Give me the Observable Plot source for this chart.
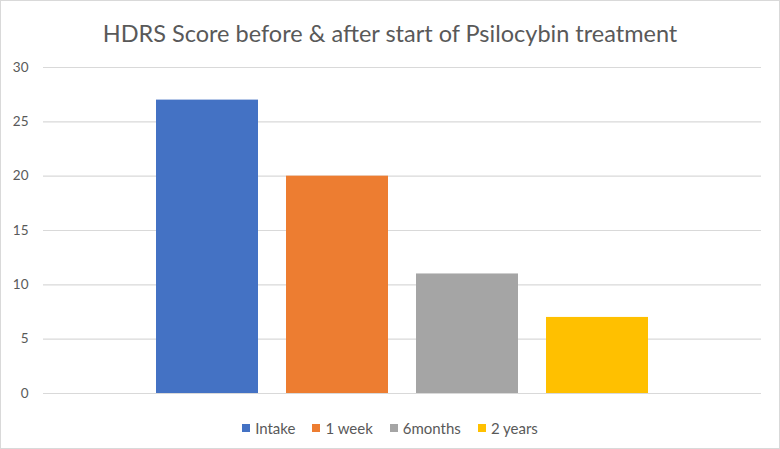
<!DOCTYPE html>
<html>
<head>
<meta charset="utf-8">
<script src="https://cdn.jsdelivr.net/npm/d3@7"></script>
<script src="https://cdn.jsdelivr.net/npm/@observablehq/plot@0.6"></script>
<style>
  html, body { margin: 0; padding: 0; background: #fff; }
  #wrap {
    width: 780px; height: 449px; box-sizing: border-box;
    border: 1px solid #d9d9d9; overflow: hidden; position: relative;
    font-family: Lato, "Open Sans", sans-serif; color: #595959;
  }
  #title {
    height: 55px; box-sizing: border-box; padding-top: 19px;
    text-align: center; font-size: 23.5px; line-height: 26px; color: #595959;
  }
  #legend {
    height: 44px; display: flex; justify-content: center; align-items: center;
    gap: 17px; font-size: 15px; color: #595959;
  }
  .item { display: flex; align-items: center; gap: 5px; }
  .sw { width: 8px; height: 8px; display: inline-block; }
  svg { display: block; }
</style>
</head>
<body>
<div id="wrap">
  <div id="title"></div>
  <div id="chart"></div>
  <div id="legend"></div>
</div>
<script>
const titleText = "HDRS Score before & after start of Psilocybin treatment";
const series = ["Intake", "1 week", "6months", "2 years"];
const values = [27, 20, 11, 7];
const colors = ["#4472C4", "#ED7D31", "#A5A5A5", "#FFC000"];
const yTicks = [0, 5, 10, 15, 20, 25, 30];

const data = series.map((s, i) => ({series: s, value: values[i]}));

document.getElementById("title").textContent = titleText;

const chart = Plot.plot({
  width: 778,
  height: 350,
  marginTop: 11,
  marginBottom: 13,
  marginLeft: 42,
  marginRight: 18,
  style: {fontFamily: "Lato, 'Open Sans', sans-serif", fontSize: "13.5px", color: "#595959", background: "#fff"},
  x: {domain: series, paddingInner: 0.215, paddingOuter: 0.865, axis: null},
  y: {domain: [0, 30], ticks: yTicks, label: null},
  color: {domain: series, range: colors},
  marks: [
    Plot.gridY(yTicks, {stroke: "#d9d9d9", strokeOpacity: 1, strokeWidth: 1.2}),
    Plot.axisY(yTicks, {tickSize: 0, tickPadding: 15, label: null, fill: "#595959"}),
    Plot.barY(data, {x: "series", y: "value", fill: "series"})
  ]
});
document.getElementById("chart").appendChild(chart);

const legend = document.getElementById("legend");
series.forEach((s, i) => {
  const item = document.createElement("span");
  item.className = "item";
  const sw = document.createElement("span");
  sw.className = "sw";
  sw.style.background = colors[i];
  const label = document.createElement("span");
  label.textContent = s;
  item.appendChild(sw);
  item.appendChild(label);
  legend.appendChild(item);
});
</script>
</body>
</html>
